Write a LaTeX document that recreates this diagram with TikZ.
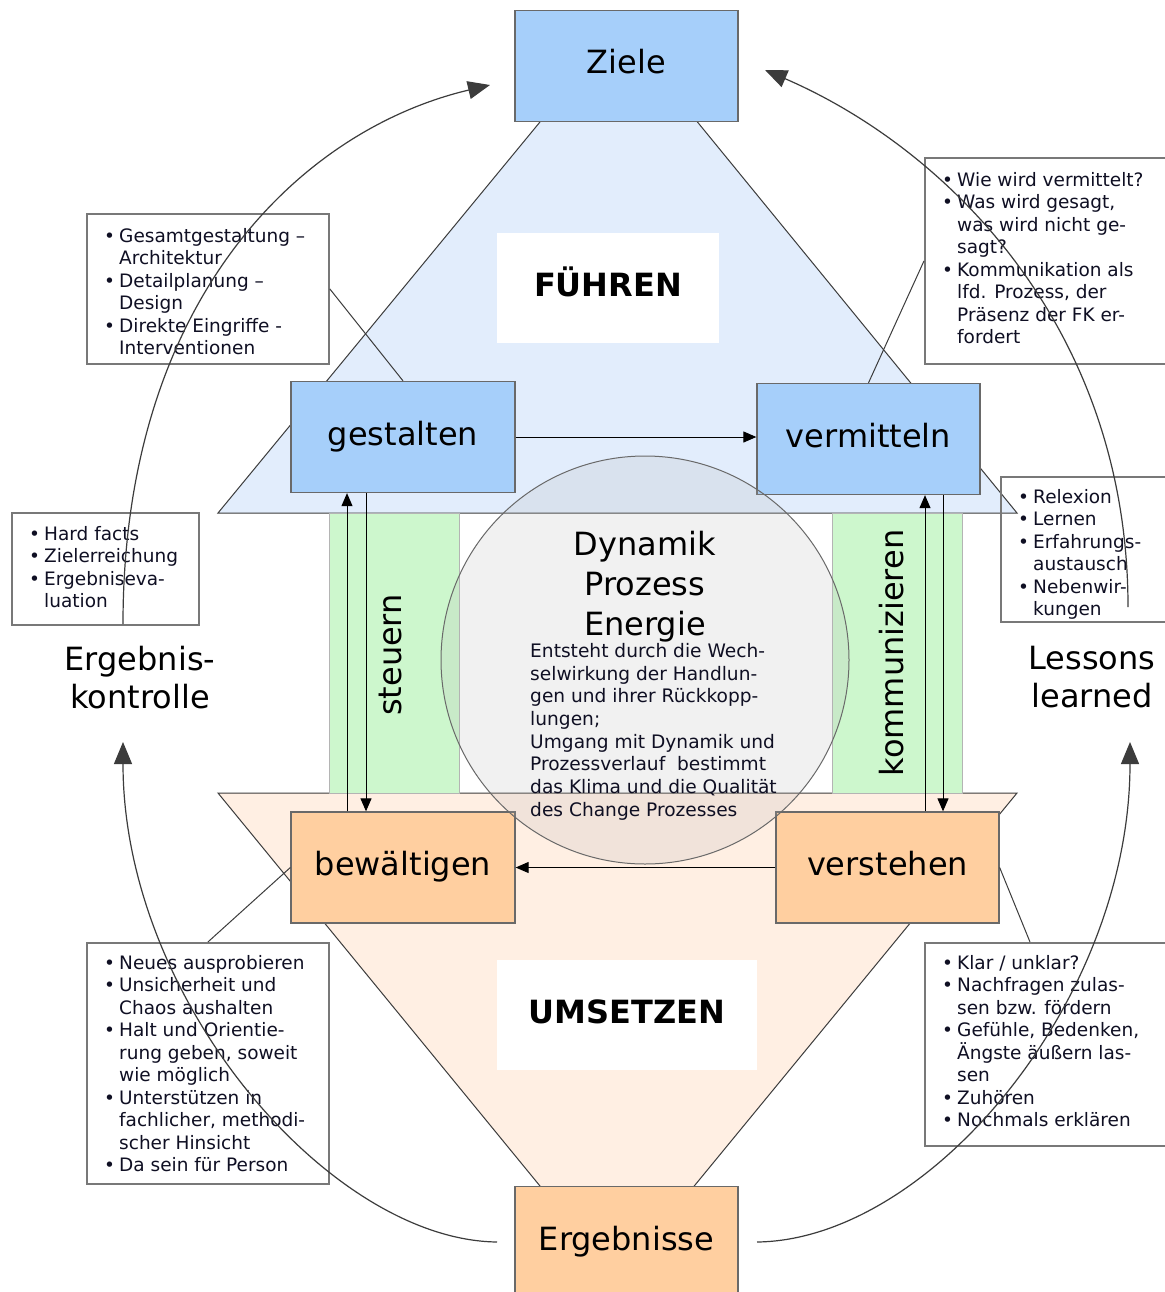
\documentclass[tikz,border=0pt]{standalone}
\usepackage{fontspec}
\setmainfont{DejaVu Sans}
\usetikzlibrary{arrows.meta}

\definecolor{zielblau}{RGB}{166,207,250}
\definecolor{fuehrblau}{RGB}{226,237,252}
\definecolor{steuergruen}{RGB}{205,247,205}
\definecolor{umsetzorange}{RGB}{255,207,160}
\definecolor{umsetzhell}{RGB}{255,239,227}
\definecolor{rahmen}{RGB}{105,105,105}
\definecolor{linie}{RGB}{60,60,60}
\definecolor{textblau}{RGB}{15,15,35}

\newcommand{\bul}{\makebox[15pt][l]{•}}
\newcommand{\ein}{\hspace*{15pt}}

\begin{document}
\begin{tikzpicture}[x=1pt, y=-1pt,
  hauptbox/.style={draw=rahmen, line width=1.3pt, minimum width=223pt, minimum height=111pt,
    inner sep=0pt, font=\fontsize{32}{38}\selectfont, text height=24pt, text depth=8pt},
  blaubox/.style={hauptbox, fill=zielblau},
  orangebox/.style={hauptbox, fill=umsetzorange},
  titel/.style={fill=white, inner sep=0pt, minimum height=110pt,
    font=\bfseries\fontsize{32}{38}\selectfont, text height=24pt, text depth=8pt},
  saeule/.style={draw=rahmen!50, fill=steuergruen, line width=0.8pt,
    minimum width=130pt, minimum height=280pt, inner sep=0pt},
  kasten/.style={draw=rahmen!90, line width=1.8pt, anchor=north west, inner sep=0pt},
  stichpunkte/.style={anchor=north west, inner sep=0pt, align=left, text=textblau,
    font=\fontsize{18.5}{22.5}\selectfont},
  gross/.style={inner sep=0pt, align=center, anchor=north},
  verbinder/.style={draw=linie, line width=1pt},
  bogen/.style={draw=linie, line width=1.2pt, -{Triangle[length=22pt, width=18pt]}},
  pfeil/.style={draw=black, line width=1pt, -{Triangle[length=13pt, width=11pt]}},
]
\fill[white] (0,0) rectangle (1164,1292);
\useasboundingbox (0,0) rectangle (1164,1292);

% Dreiecke
\filldraw[fill=fuehrblau, draw=linie, line width=1pt] (218,513) -- (619,26) -- (1017,513) -- cycle;
\filldraw[fill=umsetzhell, draw=linie, line width=1pt] (218,793) -- (617,1280) -- (1017,793) -- cycle;

\node[titel, minimum width=222pt] (fuehren) at (608,288) {FÜHREN};
\node[titel, minimum width=260pt] (umsetzen) at (627,1015) {UMSETZEN};

% Saeulen
\node[saeule] (steuersaeule) at (394,653) {};
\node[saeule] (kommsaeule) at (897,653) {};
\node[rotate=90, inner sep=0pt, font=\fontsize{32}{38}\selectfont] (steuern) at (390,655) {steuern};
\node[rotate=90, inner sep=0pt, font=\fontsize{32}{38}\selectfont] (kommunizieren) at (892,653) {kommunizieren};

% Stichpunkt-Kaesten
\node[kasten, minimum width=242pt, minimum height=150pt] (gestaltkasten) at (86,213) {};
\begin{scope}
\clip (gestaltkasten.north west) rectangle (gestaltkasten.south east);
\node[stichpunkte] (gestalttext) at (104,228) {\bul Gesamtgestaltung –\\ \ein Architektur\\
  \bul Detailplanung –\\ \ein Design\\ \bul Direkte Eingriffe -\\ \ein Interventionen};
\end{scope}

\node[kasten, minimum width=246pt, minimum height=206pt] (vermittelkasten) at (924,157) {};
\node[stichpunkte] (vermitteltext) at (942,172) {\bul Wie wird vermittelt?\\ \bul Was wird gesagt,\\
  \ein was wird nicht ge-\\ \ein sagt?\\ \bul Kommunikation als\\ \ein lfd. Prozess, der\\
  \ein Präsenz der FK er-\\ \ein fordert};

\node[kasten, minimum width=187pt, minimum height=112pt] (kontrollkasten) at (11,512) {};
\node[stichpunkte] (kontrolltext) at (29,526) {\bul Hard facts\\ \bul Zielerreichung\\
  \bul Ergebniseva-\\ \ein luation};

\node[kasten, minimum width=170pt, minimum height=145pt] (lernkasten) at (1000,476) {};
\begin{scope}
\clip (lernkasten.north west) rectangle (lernkasten.south east);
\node[stichpunkte] (lerntext) at (1018,489) {\bul Relexion\\ \bul Lernen\\ \bul Erfahrungs-\\
  \ein austausch\\ \bul Nebenwir-\\ \ein kungen};
\end{scope}

\node[kasten, minimum width=242pt, minimum height=241pt] (bewaeltigkasten) at (86,942) {};
\node[stichpunkte] (bewaeltigtext) at (104,955) {\bul Neues ausprobieren\\ \bul Unsicherheit und\\
  \ein Chaos aushalten\\ \bul Halt und Orientie-\\ \ein rung geben, soweit\\ \ein wie möglich\\
  \bul Unterstützen in\\ \ein fachlicher, methodi-\\ \ein scher Hinsicht\\ \bul Da sein für Person};

\node[kasten, minimum width=246pt, minimum height=203pt] (verstehkasten) at (924,942) {};
\node[stichpunkte] (verstehtext) at (942,955) {\bul Klar / unklar?\\ \bul Nachfragen zulas-\\
  \ein sen bzw. fördern\\ \bul Gefühle, Bedenken,\\ \ein Ängste äußern las-\\ \ein sen\\
  \bul Zuhören\\ \bul Nochmals erklären};

% Hauptknoten
\node[blaubox] (ziele) at (626.5,66) {Ziele};
\node[blaubox, minimum width=224pt] (gestalten) at (403,437) {gestalten};
\node[blaubox] (vermitteln) at (868.5,439) {vermitteln};
\node[orangebox, minimum width=224pt] (bewaeltigen) at (403,867.5) {bewältigen};
\node[orangebox] (verstehen) at (887.5,867.5) {verstehen};
\node[orangebox] (ergebnisse) at (626.5,1242) {Ergebnisse};

% Verbindungen zu den Kaesten
\draw[verbinder] (gestalten.north) -- (gestaltkasten.east);
\draw[verbinder] (vermitteln.north) -- (vermittelkasten.west);
\draw[verbinder] (bewaeltigen.west) -- (bewaeltigkasten.north);
\draw[verbinder] (verstehen.east) -- ([xshift=106pt]verstehkasten.north west);

\node[gross, font=\fontsize{32}{37.5}\selectfont] (ergebniskontrolle) at (140,646) {Ergebnis-\\kontrolle};
\node[gross, font=\fontsize{32}{37.5}\selectfont] (lessons) at (1092,646) {Lessons\\learned};

% Pfeile zwischen den Knoten
\draw[pfeil] (gestalten.east) -- (vermitteln.west |- gestalten.east);
\draw[pfeil] (verstehen.west) -- (bewaeltigen.east);
\draw[pfeil] (bewaeltigen.north -| 347,0) -- (gestalten.south -| 347,0);
\draw[pfeil] (gestalten.south -| 366,0) -- (bewaeltigen.north -| 366,0);
\draw[pfeil] (verstehen.north -| 925,0) -- (vermitteln.south -| 925,0);
\draw[pfeil] (vermitteln.south -| 943,0) -- (verstehen.north -| 943,0);

% Kreislauf
\coordinate (kontrollstart) at (123,624);
\coordinate (zielelinks) at (490,85);
\coordinate (lernstart) at (1128,607);
\coordinate (zielerechts) at (765,70);
\coordinate (ergebnislinks) at (497,1242);
\coordinate (kontrollziel) at (123,742);
\coordinate (ergebnisrechts) at (757,1242);
\coordinate (lernziel) at (1130,742);
\draw[bogen] (kontrollstart) .. controls (123,300) and (300,130) .. (zielelinks);
\draw[bogen] (lernstart) .. controls (1128,330) and (950,150) .. (zielerechts);
\draw[bogen] (ergebnislinks) .. controls (330,1240) and (123,1000) .. (kontrollziel);
\draw[bogen] (ergebnisrechts) .. controls (930,1240) and (1130,1000) .. (lernziel);

% Dynamik
\node[circle, draw=rahmen, line width=1pt, fill=gray!60, fill opacity=0.18, minimum size=408pt,
  inner sep=0pt] (dynamik) at (645,660) {};
\node[gross, font=\fontsize{32}{40}\selectfont] (dynamiktitel) at (645,531) {Dynamik\\Prozess\\Energie};
\node[stichpunkte, font=\fontsize{18.6}{22.7}\selectfont] (dynamiktext) at (530,643)
  {Entsteht durch die Wech-\\ selwirkung der Handlun-\\ gen und ihrer Rückkopp-\\ lungen;\\
   Umgang mit Dynamik und\\ Prozessverlauf\ \ bestimmt\\ das Klima und die Qualität\\
   des Change Prozesses};
\end{tikzpicture}
\end{document}
